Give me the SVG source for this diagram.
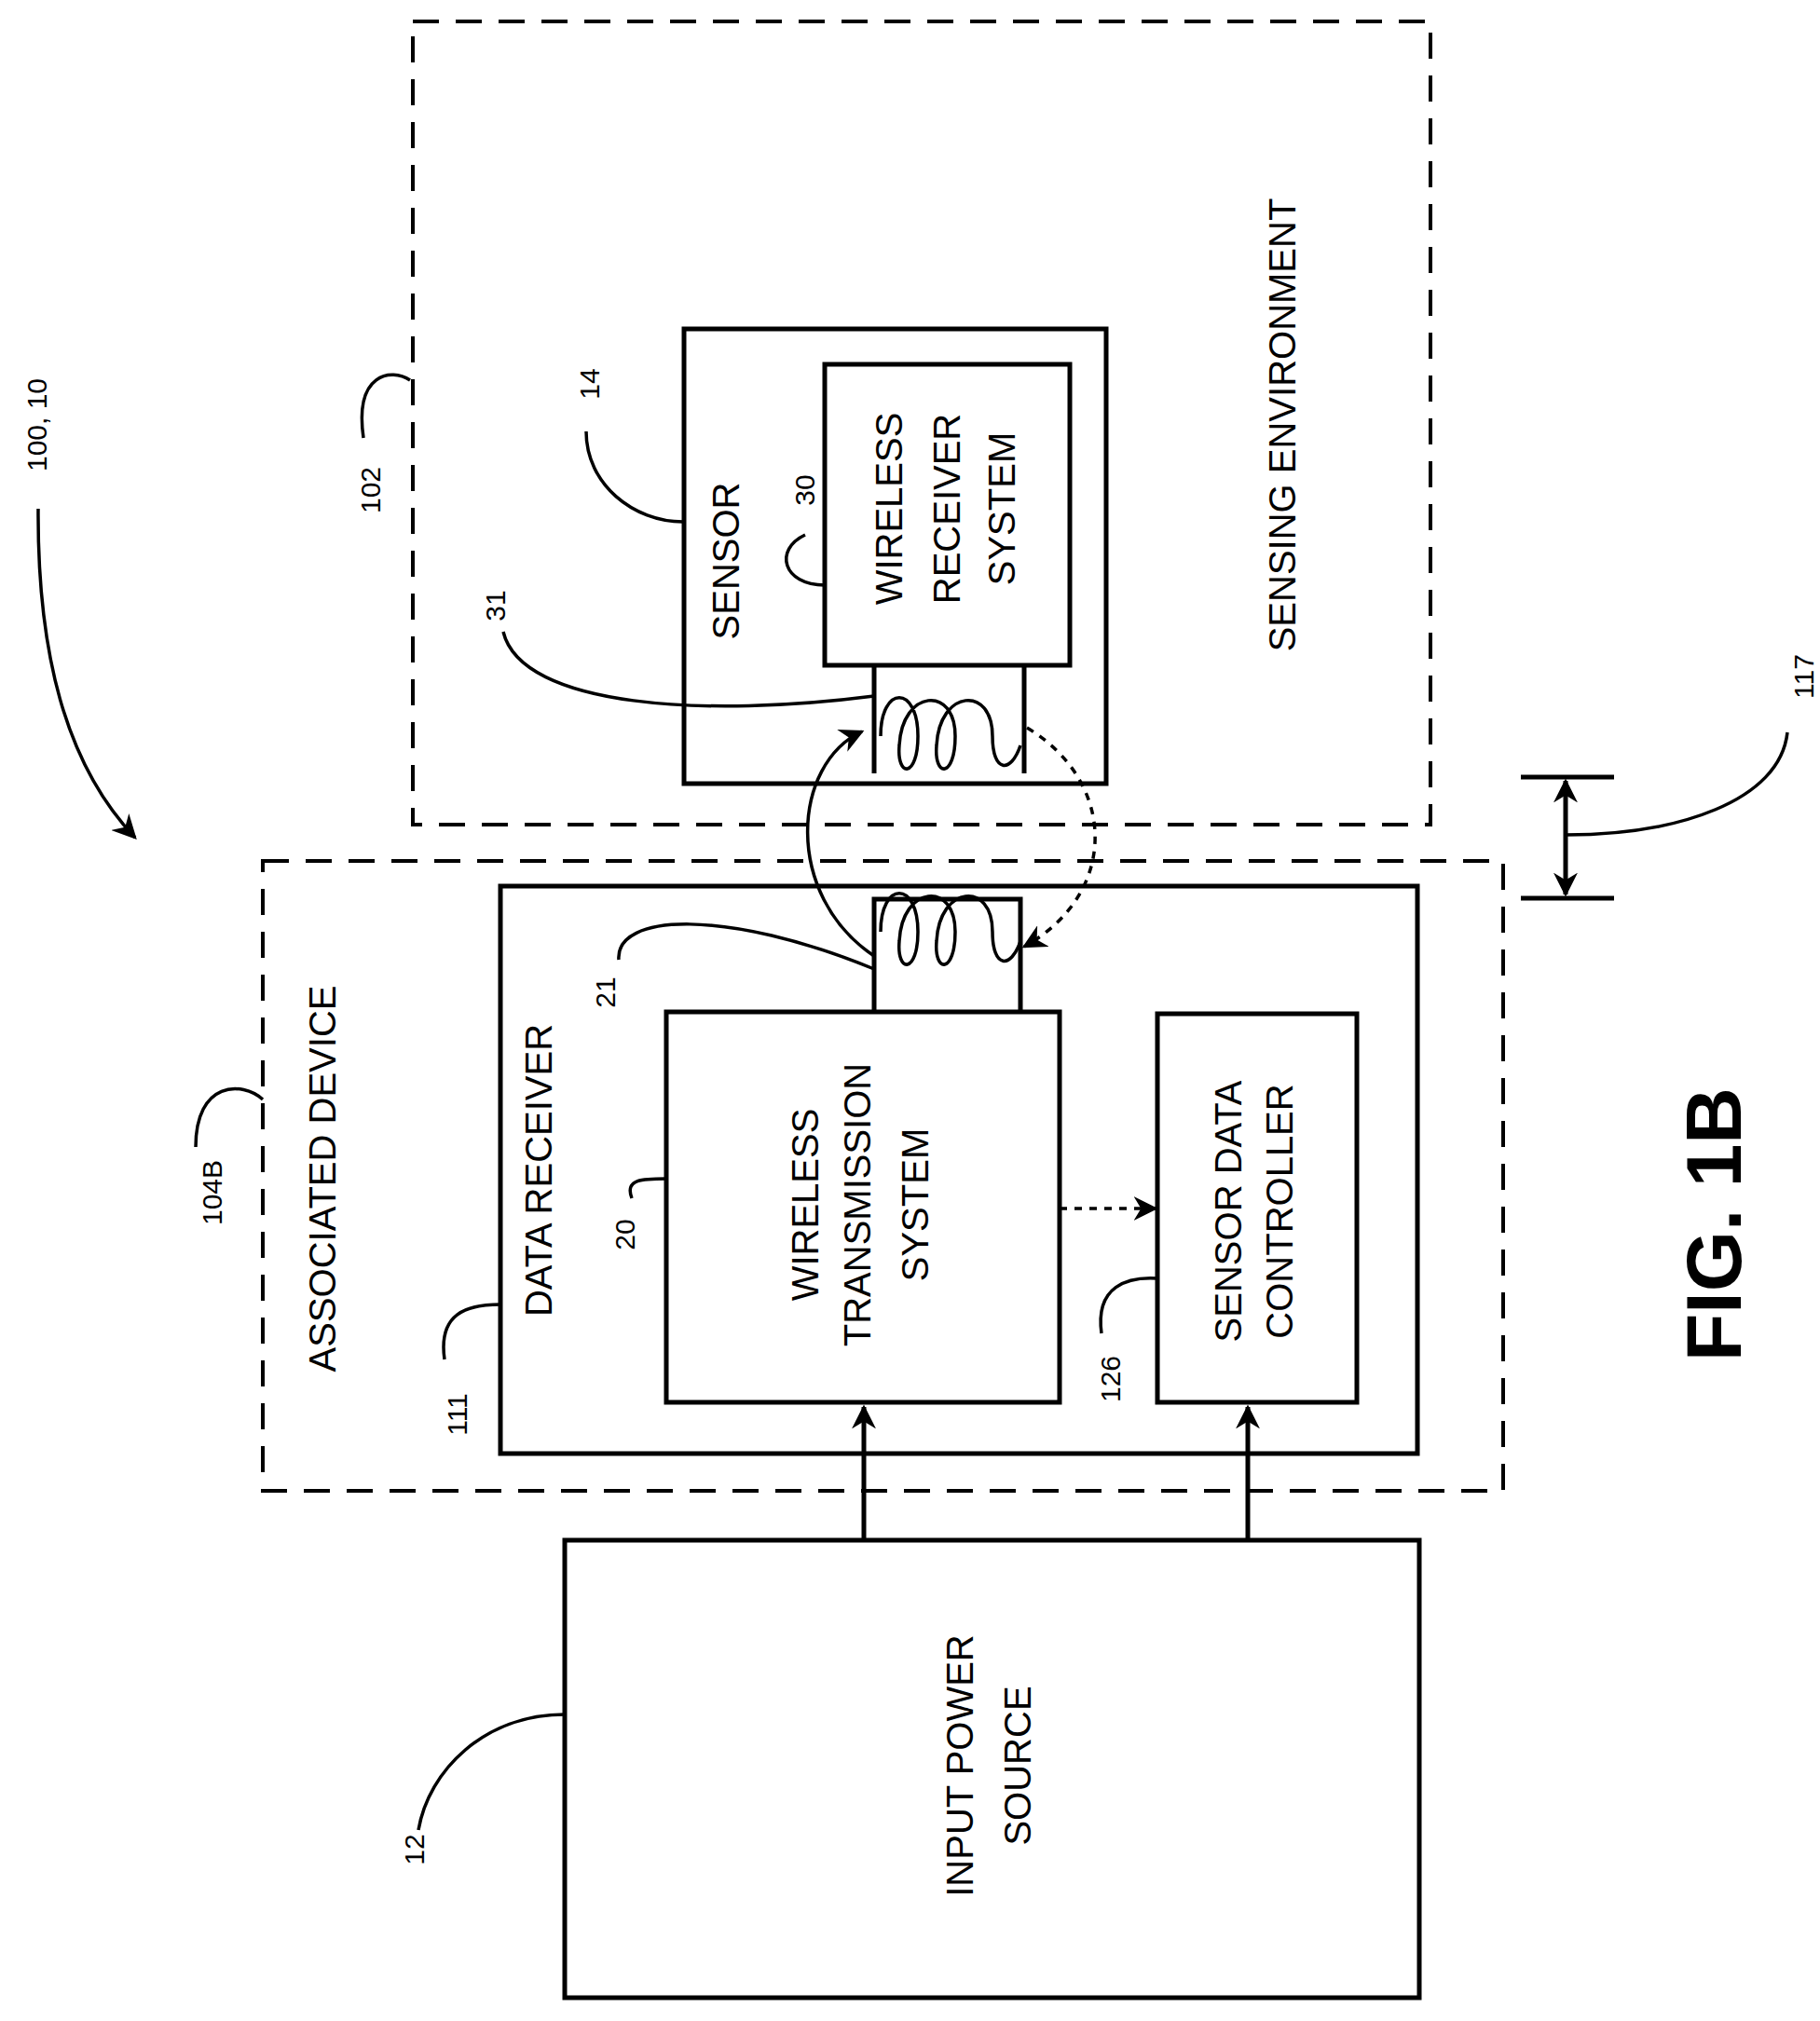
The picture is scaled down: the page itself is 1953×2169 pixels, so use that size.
<svg xmlns="http://www.w3.org/2000/svg" width="1953" height="2169" viewBox="0 0 1953 2169">
<style>
.b{fill:none;stroke:#000;stroke-width:5}
.d{fill:none;stroke:#000;stroke-width:4;stroke-dasharray:28,18}
.l{fill:none;stroke:#000;stroke-width:3.5}
text{font-family:"Liberation Sans",Arial,sans-serif;fill:#000}
.t{font-size:40px}
.n{font-size:30px}
</style>
<defs>
<marker id="a" markerWidth="10" markerHeight="10" refX="8" refY="5" orient="auto" markerUnits="userSpaceOnUse" viewBox="0 0 10 10"><path d="M0,0L10,5L0,10z"/></marker>
<marker id="A" viewBox="0 0 10 10" refX="9" refY="5" markerWidth="26" markerHeight="26" orient="auto-start-reverse" markerUnits="userSpaceOnUse"><path d="M0,0L10,5L0,10L3,5z"/></marker>
</defs>
<g id="sensing-env"><rect x="443" y="23" width="1092" height="862" class="d"/>
<text class="t" transform="translate(1390,456) rotate(-90)" text-anchor="middle">SENSING ENVIRONMENT</text></g>
<g id="sensor"><rect x="734" y="353" width="453" height="488" class="b"/>
<text class="t" transform="translate(793,602) rotate(-90)" text-anchor="middle">SENSOR</text></g>
<g id="wrs"><rect x="885" y="391" width="263" height="323" class="b"/>
<text class="t" transform="translate(968,546) rotate(-90)" text-anchor="middle">WIRELESS</text>
<text class="t" transform="translate(1030,546) rotate(-90)" text-anchor="middle">RECEIVER</text>
<text class="t" transform="translate(1089,546) rotate(-90)" text-anchor="middle">SYSTEM</text></g>
<g id="coil31"><path d="M938,714V830M1099,714V830" class="b"/>
<path class="l" d="M945,790 C945,735 985,735 985,790 C985,835 962,835 965,800 C968,740 1025,735 1025,790 C1025,835 1002,835 1005,800 C1008,740 1065,735 1065,790 C1065,830 1085,830 1095,800"/></g>
<g id="assoc"><rect x="282" y="924" width="1331" height="676" class="d"/>
<text class="t" transform="translate(360,1265) rotate(-90)" text-anchor="middle">ASSOCIATED DEVICE</text></g>
<g id="datarx"><rect x="537" y="951" width="984" height="609" class="b"/>
<text class="t" transform="translate(592,1256) rotate(-90)" text-anchor="middle">DATA RECEIVER</text></g>
<g id="coil21"><path d="M938,1086V965H1095V1086" class="b"/>
<path class="l" d="M945,1000 C945,945 985,945 985,1000 C985,1045 962,1045 965,1010 C968,950 1025,945 1025,1000 C1025,1045 1002,1045 1005,1010 C1008,950 1065,945 1065,1000 C1065,1040 1085,1040 1095,1010"/></g>
<g id="wts"><rect x="715" y="1086" width="422" height="419" class="b"/>
<text class="t" transform="translate(878,1293) rotate(-90)" text-anchor="middle">WIRELESS</text>
<text class="t" transform="translate(934,1293) rotate(-90)" text-anchor="middle">TRANSMISSION</text>
<text class="t" transform="translate(996,1293) rotate(-90)" text-anchor="middle">SYSTEM</text></g>
<g id="sdc"><rect x="1242" y="1088" width="214" height="417" class="b"/>
<text class="t" transform="translate(1332,1300) rotate(-90)" text-anchor="middle">SENSOR DATA</text>
<text class="t" transform="translate(1387,1300) rotate(-90)" text-anchor="middle">CONTROLLER</text></g>
<g id="power"><rect x="606" y="1653" width="917" height="491" class="b"/>
<text class="t" transform="translate(1044,1895) rotate(-90)" text-anchor="middle">INPUT POWER</text>
<text class="t" transform="translate(1106,1895) rotate(-90)" text-anchor="middle">SOURCE</text></g>
<g id="fig"><text font-size="84" font-weight="bold" transform="translate(1868,1314) rotate(-90)" text-anchor="middle">FIG. 1B</text></g>
<g id="labels" class="n">
<text class="n" transform="translate(50,456) rotate(-90)" text-anchor="middle">100, 10</text>
<text class="n" transform="translate(408,526) rotate(-90)" text-anchor="middle">102</text>
<text class="n" transform="translate(643,412) rotate(-90)" text-anchor="middle">14</text>
<text class="n" transform="translate(874,526) rotate(-90)" text-anchor="middle">30</text>
<text class="n" transform="translate(542,650) rotate(-90)" text-anchor="middle">31</text>
<text class="n" transform="translate(238,1280) rotate(-90)" text-anchor="middle">104B</text>
<text class="n" transform="translate(660,1065) rotate(-90)" text-anchor="middle">21</text>
<text class="n" transform="translate(681,1325) rotate(-90)" text-anchor="middle">20</text>
<text class="n" transform="translate(501,1518) rotate(-90)" text-anchor="middle">111</text>
<text class="n" transform="translate(1202,1480) rotate(-90)" text-anchor="middle">126</text>
<text class="n" transform="translate(455,1985) rotate(-90)" text-anchor="middle">12</text>
<text class="n" transform="translate(1946,726) rotate(-90)" text-anchor="middle">117</text>
</g>
<g id="connectors">
<path class="l" d="M41,546 C40,700 70,820 145,899" marker-end="url(#A)"/>
<path class="l" d="M390,470 C380,400 420,395 440,408"/>
<path class="l" d="M629,463 C629,520 680,560 733,560"/>
<path class="l" d="M864,574 C830,590 840,628 885,628"/>
<path class="l" d="M540,678 C560,760 760,770 938,747"/>
<path class="l" d="M664,1030 C660,980 780,975 938,1040"/>
<path class="l" d="M678,1286 C670,1265 690,1265 715,1265"/>
<path class="l" d="M477,1459 C470,1410 500,1400 537,1400"/>
<path class="l" d="M210,1231 C210,1160 260,1160 282,1180"/>
<path class="l" d="M1182,1431 C1175,1380 1210,1370 1242,1372"/>
<path class="l" d="M449,1964 C460,1900 520,1840 606,1840"/>
<path class="l" d="M1680,896 C1800,896 1910,860 1918,786"/>
<path class="l" d="M938,1026 C840,960 850,820 925,785" marker-end="url(#A)"/>
<path class="l" stroke-dasharray="8,8" d="M1102,781 C1200,840 1200,960 1099,1016" marker-end="url(#A)"/>
<path class="l" stroke-dasharray="8,8" d="M1137,1297H1240" marker-end="url(#A)"/>
<path class="b" d="M927,1653V1510" marker-end="url(#A)"/>
<path class="b" d="M1339,1653V1510" marker-end="url(#A)"/>
<path class="b" d="M1632,834H1732M1632,964H1732"/>
<path class="b" d="M1680,838V960" marker-start="url(#A)" marker-end="url(#A)"/>
</g>
</svg>
